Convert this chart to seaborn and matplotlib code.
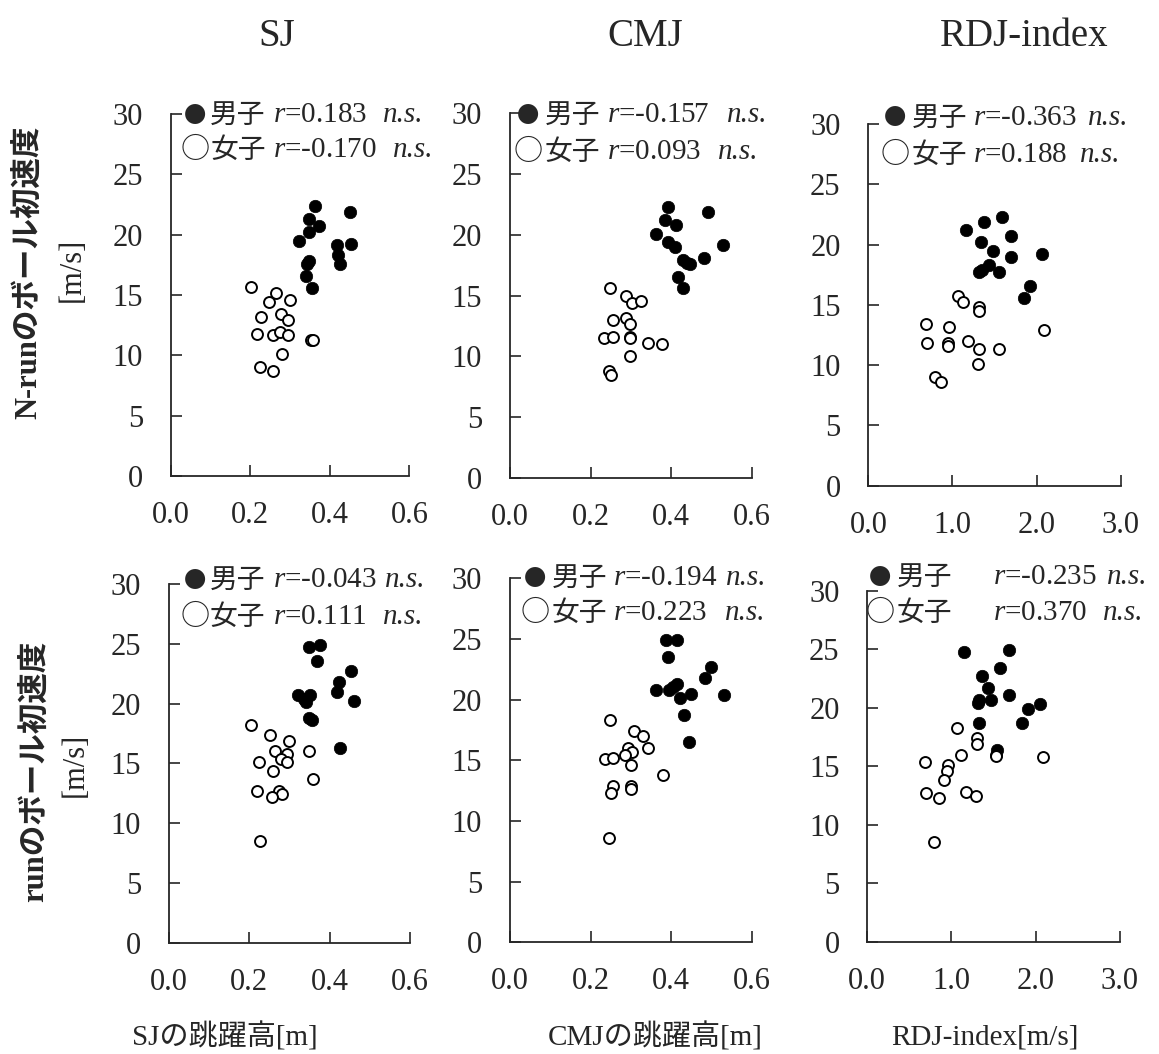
import matplotlib
matplotlib.use("Agg")
import matplotlib.pyplot as plt
import seaborn as sns

# ---- data ----
# top row: N-run ball velocity [m/s]
sj_nrun_male_x = [0.364, 0.450, 0.348, 0.374, 0.348, 0.323, 0.418, 0.453, 0.420, 0.425, 0.348, 0.342, 0.339, 0.354]
sj_nrun_male_y = [22.4, 21.9, 21.3, 20.7, 20.2, 19.5, 19.1, 19.2, 18.3, 17.6, 17.8, 17.6, 16.6, 15.6]
sj_nrun_female_x = [0.202, 0.265, 0.248, 0.300, 0.227, 0.277, 0.295, 0.217, 0.258, 0.276, 0.295, 0.352, 0.358, 0.281, 0.224, 0.258]
sj_nrun_female_y = [15.7, 15.2, 14.4, 14.6, 13.2, 13.4, 12.9, 11.8, 11.7, 11.9, 11.7, 11.3, 11.3, 10.1, 9.0, 8.7]

cmj_nrun_male_x = [0.393, 0.492, 0.385, 0.413, 0.362, 0.393, 0.411, 0.529, 0.481, 0.430, 0.448, 0.440, 0.418, 0.430]
cmj_nrun_male_y = [22.3, 21.9, 21.2, 20.8, 20.1, 19.4, 19.0, 19.2, 18.1, 17.9, 17.6, 17.7, 16.5, 15.6]
cmj_nrun_female_x = [0.249, 0.289, 0.303, 0.326, 0.255, 0.289, 0.297, 0.233, 0.255, 0.297, 0.297, 0.342, 0.377, 0.297, 0.245, 0.251]
cmj_nrun_female_y = [15.6, 15.0, 14.4, 14.6, 13.0, 13.2, 12.7, 11.5, 11.6, 11.6, 11.5, 11.1, 11.0, 10.0, 8.8, 8.5]

rdj_nrun_male_x = [1.587, 1.377, 1.163, 1.694, 1.337, 1.480, 1.694, 2.063, 1.429, 1.317, 1.349, 1.548, 1.925, 1.845]
rdj_nrun_male_y = [22.3, 21.9, 21.2, 20.7, 20.2, 19.5, 19.0, 19.2, 18.3, 17.7, 17.9, 17.7, 16.6, 15.6]
rdj_nrun_female_x = [1.063, 1.123, 1.310, 1.310, 0.687, 0.964, 0.702, 0.952, 0.952, 1.183, 1.310, 1.548, 2.091, 1.302, 0.794, 0.861]
rdj_nrun_female_y = [15.7, 15.2, 14.8, 14.5, 13.4, 13.2, 11.8, 11.8, 11.6, 12.0, 11.3, 11.3, 12.9, 10.1, 9.0, 8.6]

# bottom row: run ball velocity [m/s]
sj_run_male_x = [0.349, 0.375, 0.368, 0.452, 0.423, 0.419, 0.321, 0.351, 0.340, 0.336, 0.461, 0.349, 0.357, 0.426]
sj_run_male_y = [24.7, 24.9, 23.6, 22.7, 21.8, 21.0, 20.7, 20.7, 20.1, 20.4, 20.2, 18.8, 18.6, 16.3]
sj_run_female_x = [0.203, 0.251, 0.299, 0.263, 0.349, 0.295, 0.278, 0.225, 0.293, 0.260, 0.358, 0.218, 0.274, 0.282, 0.257, 0.227]
sj_run_female_y = [18.2, 17.4, 16.9, 16.0, 16.0, 15.8, 15.4, 15.1, 15.1, 14.4, 13.7, 12.7, 12.7, 12.4, 12.2, 8.5]

cmj_run_male_x = [0.388, 0.415, 0.392, 0.500, 0.485, 0.415, 0.363, 0.396, 0.450, 0.531, 0.421, 0.431, 0.444, 0.405]
cmj_run_male_y = [24.9, 24.9, 23.5, 22.7, 21.8, 21.3, 20.8, 20.8, 20.5, 20.4, 20.1, 18.7, 16.5, 21.0]
cmj_run_female_x = [0.249, 0.307, 0.330, 0.342, 0.293, 0.303, 0.286, 0.235, 0.255, 0.301, 0.381, 0.255, 0.300, 0.251, 0.300, 0.247]
cmj_run_female_y = [18.3, 17.4, 17.0, 16.0, 16.0, 15.7, 15.4, 15.1, 15.2, 14.6, 13.8, 12.9, 12.9, 12.3, 12.6, 8.6]

rdj_run_male_x = [1.152, 1.686, 1.575, 1.365, 1.429, 1.686, 1.330, 1.476, 1.318, 1.911, 2.058, 1.326, 1.840, 1.543]
rdj_run_male_y = [24.8, 24.9, 23.4, 22.7, 21.7, 21.1, 20.7, 20.7, 20.4, 19.9, 20.3, 18.7, 18.7, 16.4]
rdj_run_female_x = [1.068, 1.306, 1.306, 1.112, 1.535, 2.089, 0.685, 0.962, 0.942, 0.914, 0.696, 1.171, 1.290, 0.855, 0.791, 1.530]
rdj_run_female_y = [18.3, 17.4, 16.9, 16.0, 16.0, 15.8, 15.4, 15.1, 14.6, 13.8, 12.7, 12.8, 12.5, 12.3, 8.5, 15.9]

# correlation labels
male_r = ["0.183", "-0.157", "-0.363", "-0.043", "-0.194", "-0.235"]
female_r = ["-0.170", "0.093", "0.188", "0.111", "0.223", "0.370"]

col_titles = ["SJ", "CMJ", "RDJ-index"]
x_labels = ["SJの跳躍高[m]", "CMJの跳躍高[m]", "RDJ-index[m/s]"]
row_labels = ["N-runのボール初速度", "runのボール初速度"]
jump_ticks = [0.0, 0.2, 0.4, 0.6]
rdj_ticks = [0.0, 1.0, 2.0, 3.0]
speed_ticks = [0, 5, 10, 15, 20, 25, 30]

panels = [
    (sj_nrun_male_x, sj_nrun_male_y, sj_nrun_female_x, sj_nrun_female_y, jump_ticks),
    (cmj_nrun_male_x, cmj_nrun_male_y, cmj_nrun_female_x, cmj_nrun_female_y, jump_ticks),
    (rdj_nrun_male_x, rdj_nrun_male_y, rdj_nrun_female_x, rdj_nrun_female_y, rdj_ticks),
    (sj_run_male_x, sj_run_male_y, sj_run_female_x, sj_run_female_y, jump_ticks),
    (cmj_run_male_x, cmj_run_male_y, cmj_run_female_x, cmj_run_female_y, jump_ticks),
    (rdj_run_male_x, rdj_run_male_y, rdj_run_female_x, rdj_run_female_y, rdj_ticks),
]

# ---- layout ----
axes_pos = [
    (0.1473, 0.5484, 0.2059, 0.3435),
    (0.4400, 0.5465, 0.2085, 0.3460),
    (0.7492, 0.5392, 0.2178, 0.3432),
    (0.1458, 0.1056, 0.2079, 0.3403),
    (0.4400, 0.1060, 0.2085, 0.3454),
    (0.7483, 0.1065, 0.2178, 0.3330),
]
# (symbol centre x, kanji x, r x, n.s. x line1, n.s. x line2, y line1, y line2), axes fraction
annot_pos = [
    (0.102, 0.165, 0.429, 0.890, 0.932, 0.997, 0.900),
    (0.076, 0.145, 0.401, 0.898, 0.861, 0.995, 0.894),
    (0.106, 0.172, 0.415, 0.871, 0.839, 1.017, 0.914),
    (0.108, 0.170, 0.432, 0.896, 0.888, 1.011, 0.908),
    (0.105, 0.172, 0.426, 0.894, 0.889, 1.000, 0.905),
    (0.052, 0.116, 0.498, 0.949, 0.933, 1.039, 0.936),
]

sns.set_style("ticks")
plt.rcParams["font.family"] = ["Liberation Serif", "Noto Sans CJK JP"]
plt.rcParams["mathtext.fontset"] = "custom"
plt.rcParams["mathtext.rm"] = "Liberation Serif"
plt.rcParams["mathtext.it"] = "Liberation Serif:italic"

serif = ["Liberation Serif", "Noto Sans CJK JP"]
cjk = ["Noto Sans CJK JP"]

fig = plt.figure(figsize=(11.59, 10.54), dpi=100)

for i, (mx, my, fx, fy, xt) in enumerate(panels):
    ax = fig.add_axes(axes_pos[i])
    sns.scatterplot(x=mx, y=my, ax=ax, color="black", edgecolor="black",
                    s=80, linewidth=0.5, zorder=3)
    sns.scatterplot(x=fx, y=fy, ax=ax, color="white", edgecolor="black",
                    s=62, linewidth=1.4, zorder=4)
    ax.set_xlim(xt[0], xt[-1])
    ax.set_ylim(0, 30)
    ax.set_xticks(xt)
    ax.set_xticklabels([f"{v:.1f}" for v in xt])
    ax.set_yticks(speed_ticks)
    ax.tick_params(direction="in", length=8, width=1.2, labelsize=22, pad=18)
    ax.tick_params(axis="y", pad=20)
    for side in ["top", "right"]:
        ax.spines[side].set_visible(False)
    for side in ["left", "bottom"]:
        ax.spines[side].set_linewidth(1.3)
    ax.set_xlabel("")
    ax.set_ylabel("")

    sx, kx, rx, nx1, nx2, y1, y2 = annot_pos[i]
    lines = [("●", 16, "男子", male_r[i], nx1, y1),
             ("○", 21, "女子", female_r[i], nx2, y2)]
    for sym, ssize, kanji, rv, nx, yy in lines:
        ax.text(sx, yy, sym, transform=ax.transAxes, family=cjk, fontsize=ssize,
                va="center", ha="center", clip_on=False)
        ax.text(kx, yy, kanji, transform=ax.transAxes, family=cjk, fontsize=20,
                va="center", ha="left", clip_on=False)
        ax.text(rx, yy, "$r$=" + rv, transform=ax.transAxes, family=serif,
                fontsize=21, va="center", ha="left", clip_on=False)
        ax.text(nx, yy, "n.s.", transform=ax.transAxes, family=serif,
                style="italic", fontsize=21, va="center", ha="left", clip_on=False)

# column titles
for x, t in zip([0.239, 0.5565, 0.884], col_titles):
    fig.text(x, 0.965, t, fontsize=28, family=serif, ha="center", va="center")

# x labels
for x, t in zip([0.194, 0.565, 0.850], x_labels):
    fig.text(x, 0.016, t, fontsize=21, family=serif, ha="center", va="center")

# row labels
fig.text(0.0242, 0.742, row_labels[0], rotation=90, fontsize=22, weight="bold",
         family=serif, ha="center", va="center")
fig.text(0.0621, 0.744, "[m/s]", rotation=90, fontsize=22, family=serif,
         ha="center", va="center")
fig.text(0.030, 0.2685, row_labels[1], rotation=90, fontsize=22, weight="bold",
         family=serif, ha="center", va="center")
fig.text(0.0647, 0.274, "[m/s]", rotation=90, fontsize=22, family=serif,
         ha="center", va="center")

plt.savefig("out.png", dpi=100)
plt.close()
